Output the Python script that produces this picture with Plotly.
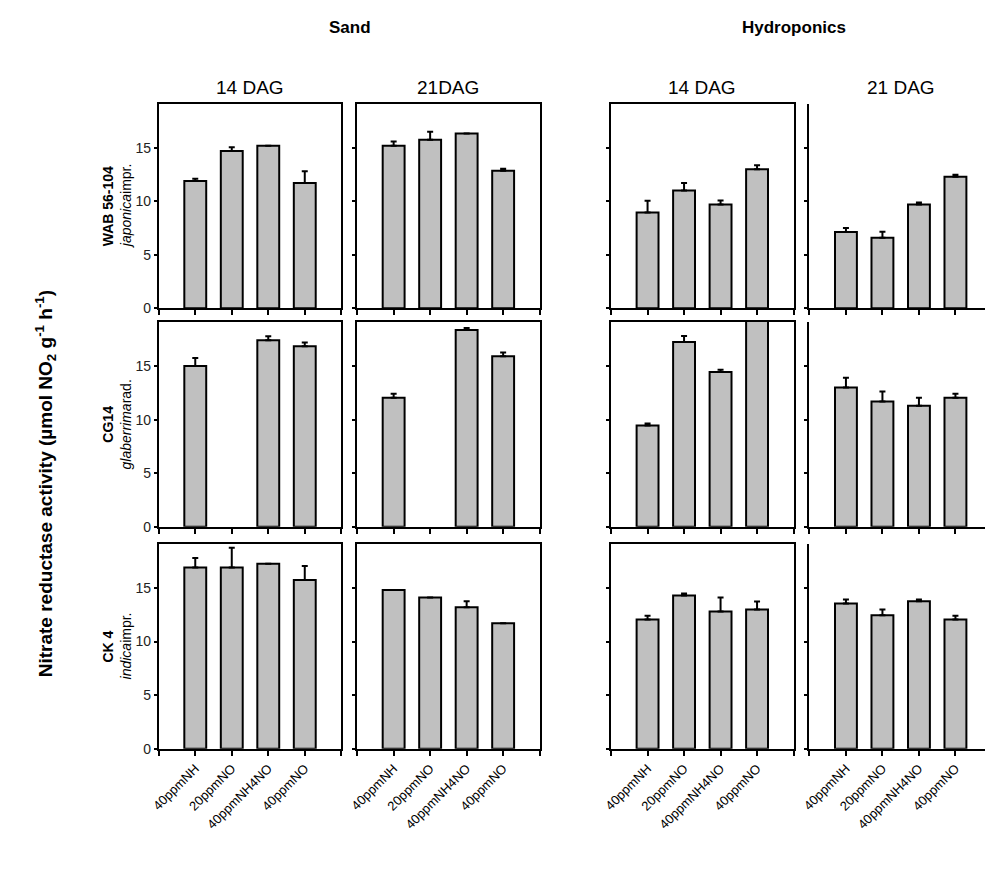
import plotly.graph_objects as go

# ---------------- data ----------------
categories = ["40ppmNH", "20ppmNO", "40ppmNH4NO", "40ppmNO"]
cultivars = ["WAB 56-104", "CG14", "CK 4"]
cultivar_types = ["<i>japonica</i>impr.", "<i>glaberrima</i>rad.", "<i>indica</i>impr."]
col_titles = ["14 DAG", "21DAG", "14 DAG", "21 DAG"]
group_titles = ["Sand", "Hydroponics"]

# values[row] for each column (Sand 14, Sand 21, Hydro 14, Hydro 21)
sand14 = [[11.9, 14.7, 15.2, 11.7], [15.0, None, 17.4, 16.85], [16.9, 16.9, 17.25, 15.75]]
sand14_err = [[0.2, 0.35, 0, 1.1], [0.75, 0, 0.37, 0.35], [0.9, 1.85, 0, 1.3]]
sand21 = [[15.2, 15.75, 16.35, 12.85], [12.05, None, 18.35, 15.9], [14.8, 14.1, 13.2, 11.7]]
sand21_err = [[0.4, 0.75, 0, 0.2], [0.37, 0, 0.2, 0.35], [0, 0, 0.55, 0]]
hydro14 = [[8.95, 11.0, 9.7, 13.0], [9.45, 17.25, 14.45, 20.0], [12.05, 14.3, 12.8, 13.0]]
hydro14_err = [[1.1, 0.7, 0.37, 0.37], [0.2, 0.55, 0.2, 0], [0.37, 0.18, 1.3, 0.74]]
hydro21 = [[7.13, 6.6, 9.7, 12.3], [13.0, 11.7, 11.3, 12.05], [13.55, 12.45, 13.75, 12.05]]
hydro21_err = [[0.37, 0.55, 0.18, 0.18], [0.9, 0.92, 0.74, 0.37], [0.37, 0.55, 0.18, 0.37]]

y_ticks = [0, 5, 10, 15]

columns = [(sand14, sand14_err), (sand21, sand21_err), (hydro14, hydro14_err), (hydro21, hydro21_err)]

# ---------------- layout geometry (pixels) ----------------
W, H = 985, 878
col_px = [(152, 336), (352, 536), (608, 792), (808, 985)]
row_px = [(105, 311), (325, 531.7), (549, 755.7)]
unit_px = (336 - 152) / 5.0

fig = go.Figure()
layout = dict(
    width=W, height=H, margin=dict(l=0, r=0, t=0, b=0),
    paper_bgcolor="white", plot_bgcolor="white", showlegend=False,
    font=dict(family="Liberation Sans, Arial, sans-serif", color="black"),
)
annotations = []

idx = 0
for r in range(3):
    for c in range(4):
        idx += 1
        vals, errs = columns[c]
        xs = list(range(len(categories)))
        fig.add_trace(go.Bar(
            x=xs, y=vals[r],
            width=0.6,
            marker=dict(color="#C0C0C0", line=dict(color="black", width=2)),
            error_y=dict(type="data", array=errs[r], arrayminus=[0] * 4, symmetric=False,
                         color="black", thickness=2, width=3),
            xaxis=f"x{idx}", yaxis=f"y{idx}", cliponaxis=True,
        ))
        x0, x1 = col_px[c]
        y0, y1 = row_px[r]
        xmax = -1 + (x1 - x0) / unit_px
        sfx = "" if idx == 1 else str(idx)
        layout["xaxis" + sfx] = dict(
            domain=[x0 / W, x1 / W], anchor=f"y{idx}", range=[-1, xmax],
            showgrid=False, zeroline=False, showline=True, linecolor="black", linewidth=2,
            mirror=True if c < 3 else False,
            ticks="outside", ticklen=5, tickwidth=2, tickcolor="black",
            tickvals=xs, ticktext=categories, showticklabels=(r == 2),
            minor=dict(tickvals=[-1, 4], ticks="outside", ticklen=5, tickwidth=2,
                       tickcolor="black", showgrid=False),
            tickangle=-45, tickfont=dict(size=13, color="black"),
            fixedrange=True,
        )
        layout["yaxis" + sfx] = dict(
            domain=[1 - y1 / H, 1 - y0 / H], anchor=f"x{idx}", range=[0, 19.1],
            showgrid=False, zeroline=False, showline=True, linecolor="black", linewidth=2,
            mirror=True if c < 3 else False,
            ticks="outside", ticklen=3, tickwidth=2, tickcolor="black",
            tickvals=y_ticks, showticklabels=(c == 0),
            tickfont=dict(size=14, color="#222"),
            fixedrange=True,
        )

# column titles
for c, t in enumerate(col_titles):
    x0, x1 = col_px[c] if c < 3 else (808, 992)
    annotations.append(dict(text=t, x=(x0 + x1) / 2 / W, y=1 - 88 / H, xref="paper", yref="paper",
                            showarrow=False, font=dict(size=19, color="black"),
                            xanchor="center", yanchor="middle"))
# group titles
annotations.append(dict(text=f"<b>{group_titles[0]}</b>", x=345 / W, y=1 - 28 / H, xref="paper", yref="paper",
                        showarrow=False, font=dict(size=17), xanchor="center", yanchor="middle"))
annotations.append(dict(text=f"<b>{group_titles[1]}</b>", x=792 / W, y=1 - 28 / H, xref="paper", yref="paper",
                        showarrow=False, font=dict(size=17), xanchor="center", yanchor="middle"))
# row labels
for r in range(3):
    y0, y1 = row_px[r]
    yc = 1 - (y0 + y1) / 2 / H
    annotations.append(dict(text=f"<b>{cultivars[r]}</b>", x=101 / W, y=yc, xref="paper", yref="paper",
                            showarrow=False, textangle=-90, font=dict(size=14),
                            xanchor="center", yanchor="middle"))
    annotations.append(dict(text=cultivar_types[r], x=119 / W, y=yc, xref="paper", yref="paper",
                            showarrow=False, textangle=-90, font=dict(size=14),
                            xanchor="center", yanchor="middle"))
# y-axis title
annotations.append(dict(text="<b>Nitrate reductase activity (µmol NO<sub>2</sub> g<sup>-1</sup> h<sup>-1</sup>)</b>",
                        x=38 / W, y=1 - 488 / H, xref="paper", yref="paper", showarrow=False,
                        textangle=-90, font=dict(size=19), xanchor="center", yanchor="middle"))

layout["annotations"] = annotations
fig.update_layout(**layout)
fig.write_html("out.html")
